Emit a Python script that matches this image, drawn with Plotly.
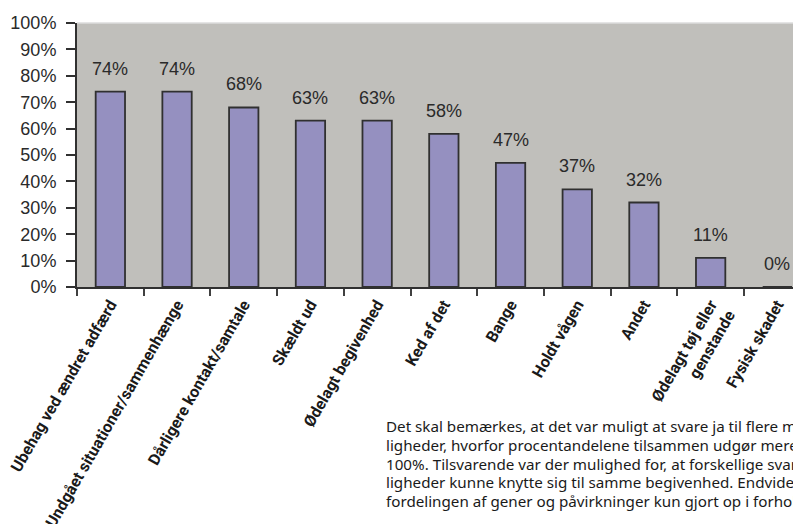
import plotly.graph_objects as go

categories = [
    "Ubehag ved ændret adfærd",
    "Undgået situationer/sammenhænge",
    "Dårligere kontakt/samtale",
    "Skældt ud",
    "Ødelagt begivenhed",
    "Ked af det",
    "Bange",
    "Holdt vågen",
    "Andet",
    "Ødelagt tøj eller<br>genstande",
    "Fysisk skadet",
]
values = [74, 74, 68, 63, 63, 58, 47, 37, 32, 11, 0]
value_labels = ["74%", "74%", "68%", "63%", "63%", "58%", "47%", "37%", "32%", "11%", "0%"]
y_ticks = [0, 10, 20, 30, 40, 50, 60, 70, 80, 90, 100]
y_tick_labels = ["0%", "10%", "20%", "30%", "40%", "50%", "60%", "70%", "80%", "90%", "100%"]

note_lines = [
    "Det skal bemærkes, at det var muligt at svare ja til flere mu-",
    "ligheder, hvorfor procentandelene tilsammen udgør mere end",
    "100%. Tilsvarende var der mulighed for, at forskellige svarmu-",
    "ligheder kunne knytte sig til samme begivenhed. Endvidere er",
    "fordelingen af gener og påvirkninger kun gjort op i forhold til",
]

# page body adds an 8px offset; layout below is in figure pixels
OFF = 8
PL, PT, PB_Y = 77 - OFF, 23 - OFF, 287 - OFF   # plot left, top, bottom (figure px)
W, H = 801, 524
PW = W - PL
PH = PB_Y - PT

fig = go.Figure()
fig.add_trace(go.Bar(
    x=categories,
    y=values,
    width=0.44,
    marker=dict(color="#9590C0", line=dict(color="#303030", width=1.8)),
    hoverinfo="skip",
))

for c, v, t in zip(categories, values, value_labels):
    fig.add_annotation(
        x=c, y=v, text=t, showarrow=False, yshift=23,
        font=dict(family="Liberation Sans, Arial, sans-serif", size=18, color="#2a2a2a"),
    )

for i, line in enumerate(note_lines):
    yc = 426 - OFF + i * 18.8
    fig.add_annotation(
        xref="paper", yref="paper", x=(384 - OFF - PL) / PW, y=-(yc - PB_Y) / PH,
        xanchor="left", yanchor="middle", align="left",
        text=line, showarrow=False,
        font=dict(family="Noto Sans, Open Sans, sans-serif", size=15.2, color="#1a1a1a"),
    )

# light top border of plot area
fig.add_shape(type="line", xref="paper", yref="paper", x0=0, x1=1, y0=1, y1=1,
              line=dict(color="#dcdcdc", width=1.5))

fig.update_layout(
    width=W, height=H,
    margin=dict(l=PL, r=0, t=PT, b=H - PB_Y),
    paper_bgcolor="white",
    plot_bgcolor="#C0BFBB",
    showlegend=False,
)
fig.update_xaxes(
    type="category",
    range=[-0.5, -0.5 + PW / 66.7],
    automargin=False,
    tickson="boundaries",
    ticks="outside", ticklen=7, tickwidth=1.5, tickcolor="#404040",
    tickangle=-60,
    tickfont=dict(family="Roboto, Liberation Sans, sans-serif",
                  size=16, color="#1a1a1a", weight="bold"),
    showline=True, linecolor="#303030", linewidth=2,
    showgrid=False, zeroline=False,
)
fig.update_yaxes(
    range=[0, 100],
    automargin=False,
    tickvals=y_ticks, ticktext=y_tick_labels,
    ticks="outside", ticklen=9, tickwidth=1.5, tickcolor="#303030",
    ticklabelstandoff=6,
    tickfont=dict(family="Liberation Sans, Arial, sans-serif", size=18, color="#2a2a2a"),
    showline=True, linecolor="#303030", linewidth=2,
    showgrid=False, zeroline=False,
)

fig.write_html("out.html")
